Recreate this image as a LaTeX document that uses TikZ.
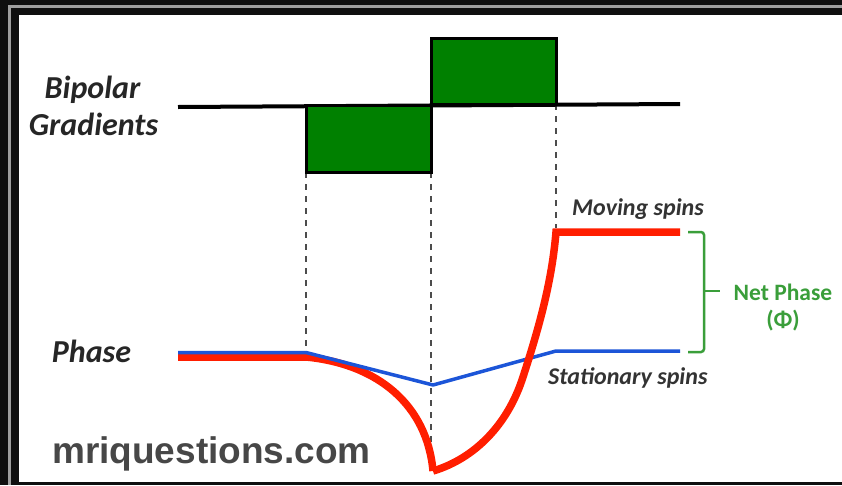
\documentclass[tikz,border=0pt]{standalone}
\usepackage{fontspec}
\setmainfont{Carlito}
\newfontfamily\wmfont{Liberation Sans}
\begin{document}
\begin{tikzpicture}[x=1pt,y=-1pt,
  lbl/.style={font=\fontsize{32}{36}\selectfont\bfseries\itshape, text=black!85, inner sep=0pt, anchor=base},
  spinlbl/.style={font=\fontsize{24}{28}\selectfont\bfseries\itshape, text=black!80, inner sep=0pt, anchor=base west},
  netlbl/.style={font=\fontsize{23.5}{26}\selectfont\bfseries, text=brkgreen, inner sep=0pt, anchor=base},
  lobe/.style={draw=black, line width=3pt, fill=lobegreen, inner sep=0pt, minimum width=125pt},
  guide/.style={draw=black!70, line width=1.6pt, dash pattern=on 6pt off 6pt},
  redline/.style={draw=phred, line width=7.5pt, line join=miter},
  blueline/.style={draw=phblue, line width=3.5pt, line join=round}]
\definecolor{lobegreen}{HTML}{008000}
\definecolor{brkgreen}{HTML}{3A9E3A}
\definecolor{phred}{HTML}{FF1E00}
\definecolor{phblue}{HTML}{1C55D8}
\definecolor{bgdark}{HTML}{0F0F0F}
\useasboundingbox (0,0) rectangle (842,485);
% frame
\fill[bgdark] (0,0) rectangle (842,485);
\draw[gray!75, line width=3pt] (9.5,485) -- (9.5,6) -- (842,6);
\fill[white] (19,15) rectangle (842,482);
% named coordinates
\coordinate (g0) at (178,107);
\coordinate (g1) at (680,104);
\coordinate (cusp) at (433,471);
% dashed guides
\draw[guide] (306,172) -- (306,352);
\draw[guide] (431,172) -- (431,466);
\draw[guide] (556,104) -- (556,228);
% gradient baseline and lobes
\draw[black, line width=4pt] (g0) -- (g1);
\node[lobe, minimum height=66.5pt] (neg) at (368.5,138.75) {};
\node[lobe, minimum height=66.5pt] (pos) at (493.5,71.25) {};
% red phase (left part)
\draw[redline] (178,357) -- (306,357)
  .. controls (378,364) and (427,405) .. (cusp);
% blue phase
\draw[blueline] (178,352.5) -- (306,352.5) -- (433,385) -- (556,351) -- (680,351);
% red phase (right part, over blue)
\draw[redline] (cusp)
  .. controls (470,460) and (505,430) .. (522,380)
  .. controls (540,325) and (552,280) .. (556,232) -- (680,232);
% bracket
\draw[brkgreen, line width=2.5pt, rounded corners=3pt] (688,232) -- (704,232) -- (704,352) -- (688,352);
\draw[brkgreen, line width=2.5pt] (704,291) -- (720,291);
% texts
\node[lbl] (bip) at (92.5,98) {Bipolar};
\node[lbl] (grad) at (93.5,135) {Gradients};
\node[lbl] (ph) at (91.5,362) {Phase};
\node[spinlbl] (mov) at (572,215) {Moving spins};
\node[spinlbl] (sta) at (548,384) {Stationary spins};
\node[netlbl] (net) at (783,300) {Net Phase};
\node[netlbl] (phi) at (783,327) {(Φ)};
\node[font=\wmfont\fontsize{37}{40}\selectfont\bfseries, text=black!72, inner sep=0pt, anchor=base west] (wm) at (52,463) {mriquestions.com};
\end{tikzpicture}
\end{document}
